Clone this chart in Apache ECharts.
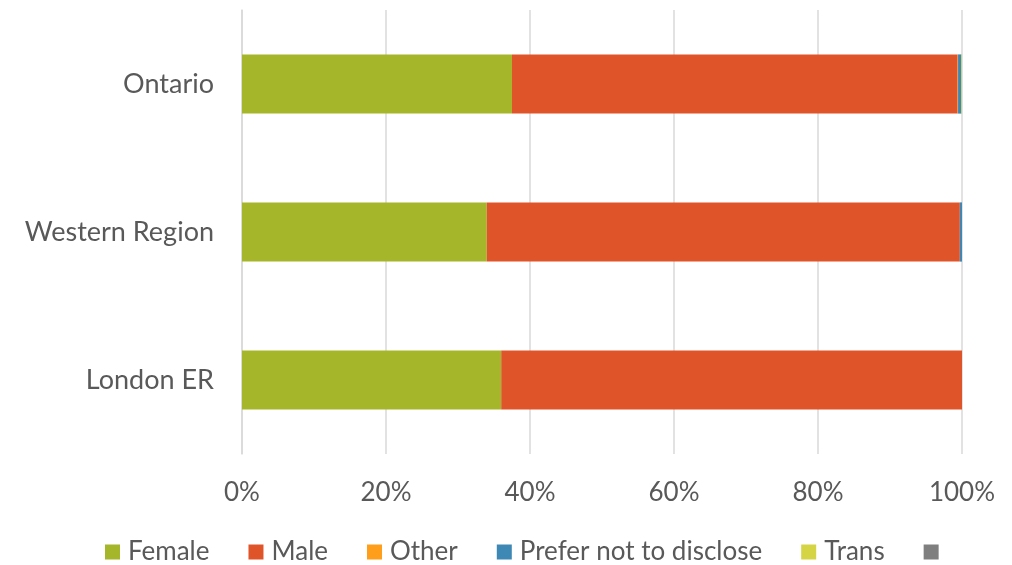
<!DOCTYPE html>
<html><head><meta charset="utf-8">
<script src="https://cdn.jsdelivr.net/npm/echarts@6/dist/echarts.min.js"></script>
<style>html,body{margin:0;padding:0;background:#fff}#c{width:1012px;height:565px}</style>
</head><body><div id="c"></div>
<script>
const categories = ['London ER', 'Western Region', 'Ontario'];
const female = [36.0, 34.0, 37.5];
const male = [64.0, 65.7, 61.9];
const other = [0, 0, 0.05];
const preferNot = [0, 0.3, 0.45];
const trans = [0, 0, 0.1];
const unnamed = [0, 0, 0];
const xTicks = [0, 20, 40, 60, 80, 100];

const names = ['Female', 'Male', 'Other', 'Prefer not to disclose', 'Trans', ' '];
const colors = ['#A5B62A', '#E0542A', '#FF9E1B', '#3E88B5', '#D4D444', '#7F7F7F'];
const datas = [female, male, other, preferNot, trans, unnamed];

const chart = echarts.init(document.getElementById('c'));
chart.setOption({
  animation: false,
  textStyle: { fontFamily: 'Lato, "Open Sans", sans-serif' },
  grid: { left: 242, right: 50, top: 10, bottom: 111, containLabel: false },
  legend: {
    bottom: -5, left: 100,
    itemWidth: 15, itemHeight: 15, itemGap: 39,
    icon: 'rect',
    textStyle: { fontSize: 26, color: '#595959', fontFamily: 'Lato, sans-serif', padding: [0, 0, 0, 3] },
    data: names
  },
  xAxis: {
    type: 'value', min: 0, max: 100, interval: 20,
    axisLine: { show: false }, axisTick: { show: false },
    splitLine: { lineStyle: { color: '#D9D9D9', width: 1.5 } },
    axisLabel: { formatter: v => xTicks.includes(v) ? v + '%' : '', fontSize: 26, color: '#595959', margin: 26 }
  },
  yAxis: {
    type: 'category', data: categories,
    axisLine: { show: true, lineStyle: { color: '#D9D9D9', width: 1.5 } },
    axisTick: { show: false },
    axisLabel: { fontSize: 27, color: '#595959', margin: 28 }
  },
  series: names.map((n, i) => ({
    name: n, type: 'bar', stack: 'total', barWidth: '40%',
    itemStyle: { color: colors[i] },
    data: datas[i]
  }))
});
</script></body></html>
